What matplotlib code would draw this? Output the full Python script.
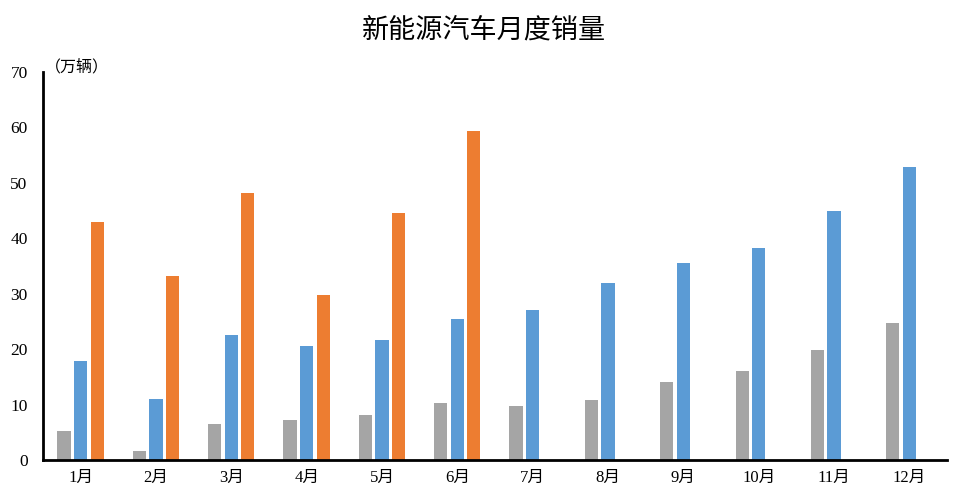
import matplotlib
matplotlib.use("Agg")
import matplotlib.pyplot as plt
import numpy as np

months = ["1月", "2月", "3月", "4月", "5月", "6月", "7月", "8月", "9月", "10月", "11月", "12月"]
sales_2020 = [5.2, 1.6, 6.5, 7.2, 8.1, 10.3, 9.7, 10.8, 14.1, 16.1, 19.9, 24.7]
sales_2021 = [17.9, 11.0, 22.6, 20.6, 21.7, 25.5, 27.1, 32.0, 35.6, 38.3, 44.9, 52.9]
sales_2022 = [43.0, 33.2, 48.2, 29.8, 44.6, 59.4]

cjk = ["Liberation Serif", "Noto Sans CJK SC", "DejaVu Sans"]
plt.rcParams['font.family'] = cjk

fig = plt.figure(figsize=(9.59, 4.88), dpi=100)
ax = fig.add_axes([0.0448, 0.0574, 0.9427, 0.7951])

x = np.arange(len(months))
w = 0.175
step = 0.22
ax.bar(x - step, sales_2020, width=w, color="#A5A5A5")
ax.bar(x, sales_2021, width=w, color="#5B9BD5")
ax.bar(np.arange(len(sales_2022)) + step, sales_2022, width=w, color="#ED7D31")

ax.set_xlim(-0.5, len(months) - 0.5)
ax.set_ylim(0, 70)
ax.set_yticks(range(0, 71, 10))
ax.set_xticks(x)
ax.set_xticklabels(months)
ax.tick_params(axis="both", length=0, labelsize=12.5, colors="#000000")
ax.tick_params(axis="y", pad=11)
ax.tick_params(axis="x", pad=7, labelsize=12)
for s in ["top", "right"]:
    ax.spines[s].set_visible(False)
ax.spines["left"].set_linewidth(2)
ax.spines["bottom"].set_linewidth(2)

fig.text(0.047, 0.862, "（万辆）", fontsize=11.5, family=["Noto Sans CJK SC"],
         fontweight="light", va="center")
fig.text(0.505, 0.939, "新能源汽车月度销量", fontsize=19.5, family=["Noto Sans CJK SC"],
         fontweight="light", ha="center", va="center")

fig.savefig("out.png", dpi=100)
